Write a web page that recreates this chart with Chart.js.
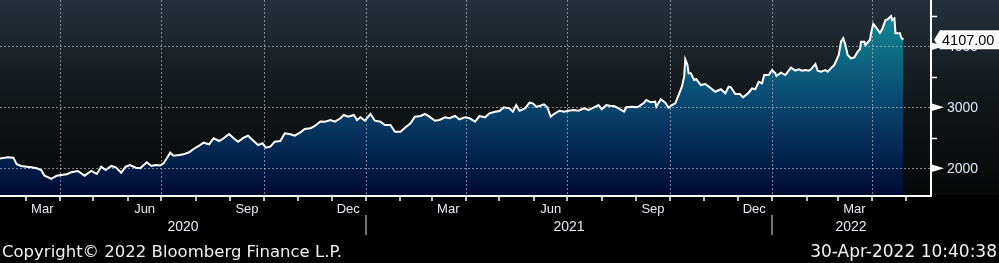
<!DOCTYPE html>
<html>
<head>
<meta charset="utf-8">
<script src="https://cdn.jsdelivr.net/npm/chart.js@4.4.1/dist/chart.umd.min.js"></script>
<style>
  html, body { margin: 0; padding: 0; background: #000; }
  canvas { display: block; }
</style>
</head>
<body>
<canvas id="chart" width="999" height="263"></canvas>
<script>
// index level, roughly every few days
const dates = [
  '2020-02-07','2020-02-14','2020-02-19','2020-02-22','2020-02-26','2020-03-02','2020-03-06','2020-03-11','2020-03-15','2020-03-18',
  '2020-03-22','2020-03-24','2020-03-29','2020-04-02','2020-04-07','2020-04-11','2020-04-17','2020-04-23','2020-04-29','2020-05-04',
  '2020-05-08','2020-05-12','2020-05-17','2020-05-21','2020-05-26','2020-05-30','2020-06-03','2020-06-08','2020-06-12','2020-06-18',
  '2020-06-22','2020-06-26','2020-06-30','2020-07-03','2020-07-06','2020-07-09','2020-07-12','2020-07-17','2020-07-21','2020-07-26',
  '2020-07-30','2020-08-04','2020-08-08','2020-08-13','2020-08-17','2020-08-22','2020-08-26','2020-08-31','2020-09-04','2020-09-08',
  '2020-09-13','2020-09-17','2020-09-22','2020-09-26','2020-09-30','2020-10-03','2020-10-07','2020-10-11','2020-10-16','2020-10-20',
  '2020-10-25','2020-10-29','2020-11-03','2020-11-07','2020-11-12','2020-11-16','2020-11-21','2020-11-25','2020-11-30','2020-12-04',
  '2020-12-09','2020-12-12','2020-12-16','2020-12-21','2020-12-24','2020-12-27','2020-12-31','2021-01-05','2021-01-09','2021-01-14',
  '2021-01-18','2021-01-23','2021-01-27','2021-02-01','2021-02-05','2021-02-10','2021-02-14','2021-02-19','2021-02-23','2021-02-27',
  '2021-03-04','2021-03-08','2021-03-13','2021-03-17','2021-03-22','2021-03-26','2021-03-31','2021-04-04','2021-04-09','2021-04-13',
  '2021-04-18','2021-04-22','2021-04-27','2021-05-01','2021-05-05','2021-05-10','2021-05-13','2021-05-16','2021-05-19','2021-05-24',
  '2021-05-28','2021-05-31','2021-06-03','2021-06-06','2021-06-10','2021-06-13','2021-06-16','2021-06-19','2021-06-24','2021-06-28',
  '2021-07-02','2021-07-07','2021-07-11','2021-07-16','2021-07-20','2021-07-25','2021-07-29','2021-08-01','2021-08-05','2021-08-09',
  '2021-08-12','2021-08-16','2021-08-21','2021-08-23','2021-08-28','2021-09-01','2021-09-03','2021-09-08','2021-09-10','2021-09-14',
  '2021-09-18','2021-09-19','2021-09-23','2021-09-27','2021-09-30','2021-10-03','2021-10-06','2021-10-09','2021-10-12','2021-10-14',
  '2021-10-15','2021-10-17','2021-10-18','2021-10-20','2021-10-23','2021-10-25','2021-10-29','2021-11-02','2021-11-07','2021-11-11',
  '2021-11-16','2021-11-20','2021-11-23','2021-11-25','2021-11-29','2021-12-03','2021-12-06','2021-12-11','2021-12-14','2021-12-17',
  '2021-12-20','2021-12-23','2021-12-25','2021-12-29','2022-01-01','2022-01-04','2022-01-05','2022-01-09','2022-01-13','2022-01-16',
  '2022-01-18','2022-01-22','2022-01-25','2022-01-28','2022-01-31','2022-02-03','2022-02-05','2022-02-09','2022-02-11','2022-02-14',
  '2022-02-18','2022-02-20','2022-02-23','2022-02-26','2022-03-02','2022-03-04','2022-03-06','2022-03-08','2022-03-10','2022-03-13',
  '2022-03-16','2022-03-19','2022-03-21','2022-03-22','2022-03-25','2022-03-26','2022-03-30','2022-03-31','2022-04-02','2022-04-04',
  '2022-04-08','2022-04-10','2022-04-13','2022-04-15','2022-04-18','2022-04-19','2022-04-21','2022-04-22','2022-04-26','2022-04-27',
  '2022-04-29'
];
const values = [
  2161,2180,2174,2066,2038,2026,2016,2000,1972,1879,
  1846,1825,1879,1890,1902,1934,1956,1879,1956,1907,
  2026,1972,2038,2016,1928,2026,2054,2010,2000,2098,
  2038,2054,2046,2082,2164,2256,2207,2218,2229,2262,
  2316,2370,2420,2393,2492,2447,2492,2562,2492,2436,
  2502,2534,2447,2382,2410,2338,2354,2436,2447,2574,
  2557,2534,2590,2644,2656,2693,2767,2764,2792,2764,
  2820,2874,2846,2874,2792,2836,2780,2890,2780,2764,
  2710,2710,2600,2600,2665,2738,2846,2857,2890,2846,
  2780,2792,2836,2820,2857,2803,2836,2820,2764,2857,
  2836,2901,2928,2939,3000,2983,2928,3037,2944,2983,
  3075,3065,3010,3021,3049,3000,2846,2890,2944,2928,
  2944,2955,2944,2983,2955,3000,3037,2967,3037,3021,
  3021,2983,2928,3000,3010,3000,3010,3075,3119,3082,
  3092,3010,3131,3075,2993,3037,3065,3201,3337,3501,
  3786,3693,3557,3557,3447,3459,3365,3382,3311,3255,
  3295,3229,3337,3328,3218,3218,3164,3239,3311,3295,
  3419,3393,3529,3529,3611,3557,3513,3567,3529,3600,
  3649,3600,3623,3600,3611,3600,3623,3709,3600,3583,
  3611,3583,3639,3693,3857,4075,4131,4021,3857,3803,
  3819,3911,3951,4075,4075,4021,4103,4213,4365,4321,
  4222,4278,4431,4442,4496,4431,4458,4213,4213,4147,
  4107
];

const yTicks = [2000, 3000, 4000];
const yMinorTicks = [2500, 3500, 4500];
const monthLabels = ['Mar', 'Jun', 'Sep', 'Dec', 'Mar', 'Jun', 'Sep', 'Dec', 'Mar'];
const monthLabelDates = ['2020-03-16', '2020-06-16', '2020-09-16', '2020-12-16', '2021-03-16',
                         '2021-06-16', '2021-09-16', '2021-12-16', '2022-03-16'];
const yearLabels = ['2020', '2021', '2022'];
const yearStarts = ['2021-01-01', '2022-01-01'];
const gridDates = ['2020-04-01', '2020-07-01', '2020-10-01', '2021-01-01', '2021-04-01',
                   '2021-07-01', '2021-10-01', '2022-01-01', '2022-04-01'];
const lastValueText = '4107.00';
const copyrightText = 'Copyright\u00A9 2022 Bloomberg Finance L.P.';
const stampText = '30-Apr-2022 10:40:38';

const xStart = '2020-02-07';
const xEnd = '2022-05-23';

function day(s) {
  return Date.parse(s + 'T00:00:00Z') / 864e5;
}

const points = dates.map((d, i) => ({ x: day(d), y: values[i] }));

// month starts for the little ticks under the axis
const monthTicks = [];
for (let y = 2020, m = 2; ; m++) {
  if (m > 11) { m = 0; y++; }
  const t = Date.UTC(y, m, 1) / 864e5;
  if (t > day(xEnd)) break;
  monthTicks.push(t);
}

const backdrop = {
  id: 'backdrop',
  beforeDraw(chart) {
    const { ctx, width, height, chartArea } = chart;
    ctx.save();
    ctx.fillStyle = '#000';
    ctx.fillRect(0, 0, width, height);
    const g = ctx.createLinearGradient(0, 0, 0, chartArea.bottom);
    g.addColorStop(0, '#24313b');
    g.addColorStop(0.55, '#111517');
    g.addColorStop(1, '#060808');
    ctx.fillStyle = g;
    ctx.fillRect(0, 0, width, chartArea.bottom);
    ctx.restore();
  }
};

// dotted grid goes over the fill but under the white line
const dottedGrid = {
  id: 'dottedGrid',
  beforeDatasetDraw(chart, args) {
    if (args.index !== 0) return;
    const { ctx, chartArea, scales } = chart;
    ctx.save();
    ctx.strokeStyle = 'rgba(190,195,200,0.65)';
    ctx.lineWidth = 1;
    ctx.setLineDash([2, 2]);
    yTicks.forEach(v => {
      const y = Math.round(scales.y.getPixelForValue(v)) + 0.5;
      ctx.beginPath();
      ctx.moveTo(chartArea.left, y);
      ctx.lineTo(chartArea.right, y);
      ctx.stroke();
    });
    gridDates.forEach(d => {
      const x = Math.round(scales.x.getPixelForValue(day(d))) + 0.5;
      ctx.beginPath();
      ctx.moveTo(x, chartArea.top);
      ctx.lineTo(x, chartArea.bottom);
      ctx.stroke();
    });
    ctx.restore();
  }
};

const axes = {
  id: 'axes',
  afterDraw(chart) {
    const { ctx, chartArea, scales, width } = chart;
    const xs = scales.x, ys = scales.y;
    ctx.save();

    // axis lines
    ctx.strokeStyle = '#fff';
    ctx.lineWidth = 2;
    ctx.beginPath();
    ctx.moveTo(chartArea.left, chartArea.bottom + 1);
    ctx.lineTo(chartArea.right + 2, chartArea.bottom + 1);
    ctx.moveTo(chartArea.right + 1, chartArea.top);
    ctx.lineTo(chartArea.right + 1, chartArea.bottom + 1);
    ctx.stroke();

    // month ticks
    ctx.lineWidth = 1.5;
    monthTicks.forEach(t => {
      const x = Math.round(xs.getPixelForValue(t));
      ctx.beginPath();
      ctx.moveTo(x, chartArea.bottom + 1);
      ctx.lineTo(x, chartArea.bottom + 6);
      ctx.stroke();
    });

    // right axis: minor ticks, pointers, labels
    const ax = chartArea.right + 1;
    ctx.lineWidth = 1.5;
    yMinorTicks.forEach(v => {
      const y = Math.round(ys.getPixelForValue(v)) + 0.5;
      ctx.beginPath();
      ctx.moveTo(ax, y);
      ctx.lineTo(ax + 6, y);
      ctx.stroke();
    });
    ctx.font = '14px "Liberation Sans", Arial, sans-serif';
    ctx.textBaseline = 'alphabetic';
    ctx.textAlign = 'left';
    yTicks.forEach(v => {
      const y = ys.getPixelForValue(v);
      ctx.fillStyle = '#fff';
      ctx.beginPath();
      ctx.moveTo(ax, y - 4);
      ctx.lineTo(ax + 13, y);
      ctx.lineTo(ax, y + 4);
      ctx.closePath();
      ctx.fill();
      ctx.fillStyle = '#e4ecfa';
      ctx.fillText(String(v), ax + 16, y + 5);
    });

    // last value box
    const ly = ys.getPixelForValue(values[values.length - 1]);
    ctx.fillStyle = '#fff';
    ctx.beginPath();
    ctx.moveTo(ax + 3, ly);
    ctx.lineTo(ax + 9, ly - 9.5);
    ctx.lineTo(width, ly - 9.5);
    ctx.lineTo(width, ly + 9.5);
    ctx.lineTo(ax + 9, ly + 9.5);
    ctx.closePath();
    ctx.fill();
    ctx.fillStyle = '#000';
    ctx.font = '14.5px "Liberation Sans", Arial, sans-serif';
    ctx.fillText(lastValueText, ax + 11, ly + 5.5);

    // month and year labels
    ctx.fillStyle = '#e8ecf0';
    ctx.textAlign = 'center';
    ctx.font = '13px "Liberation Sans", Arial, sans-serif';
    monthLabels.forEach((m, i) => {
      ctx.fillText(m, xs.getPixelForValue(day(monthLabelDates[i])), 213);
    });
    const bounds = [chartArea.left, ...yearStarts.map(d => xs.getPixelForValue(day(d))), chartArea.right];
    ctx.font = '14px "Liberation Sans", Arial, sans-serif';
    yearLabels.forEach((yl, i) => {
      ctx.fillText(yl, (bounds[i] + bounds[i + 1]) / 2, 231);
    });
    ctx.strokeStyle = '#9a9a9a';
    ctx.lineWidth = 1.5;
    yearStarts.forEach(d => {
      const x = Math.round(xs.getPixelForValue(day(d)));
      ctx.beginPath();
      ctx.moveTo(x, 215);
      ctx.lineTo(x, 235);
      ctx.stroke();
    });

    // footer
    ctx.fillStyle = '#f2f2f2';
    ctx.font = '16.5px "DejaVu Sans", sans-serif';
    ctx.textAlign = 'left';
    ctx.fillText(copyrightText, 2, 257);
    ctx.font = '17px "DejaVu Sans", sans-serif';
    ctx.textAlign = 'right';
    ctx.fillText(stampText, 997, 257);
    ctx.restore();
  }
};

new Chart(document.getElementById('chart'), {
  type: 'line',
  data: {
    datasets: [
      {
        data: points,
        borderColor: '#ffffff',
        borderWidth: 2,
        pointRadius: 0,
        tension: 0,
        fill: false
      },
      {
        data: points,
        borderWidth: 0,
        pointRadius: 0,
        tension: 0,
        fill: 'start',
        backgroundColor(context) {
          const { chart } = context;
          const area = chart.chartArea;
          if (!area) return 'rgba(0,0,0,0)';
          const g = chart.ctx.createLinearGradient(0, area.top, 0, area.bottom);
          g.addColorStop(0, '#168a99');
          g.addColorStop(0.15, '#127d8e');
          g.addColorStop(0.5, '#0a4a72');
          g.addColorStop(0.8, '#03234f');
          g.addColorStop(1, '#000a35');
          return g;
        }
      }
    ]
  },
  options: {
    responsive: false,
    devicePixelRatio: 1,
    animation: false,
    layout: { padding: { left: 0, top: 0, right: 69, bottom: 68 } },
    plugins: { legend: { display: false }, tooltip: { enabled: false } },
    scales: {
      x: { type: 'linear', display: false, min: day(xStart), max: day(xEnd) },
      y: { display: false, min: 1562, max: 4759 }
    }
  },
  plugins: [backdrop, dottedGrid, axes]
});
</script>
</body>
</html>
